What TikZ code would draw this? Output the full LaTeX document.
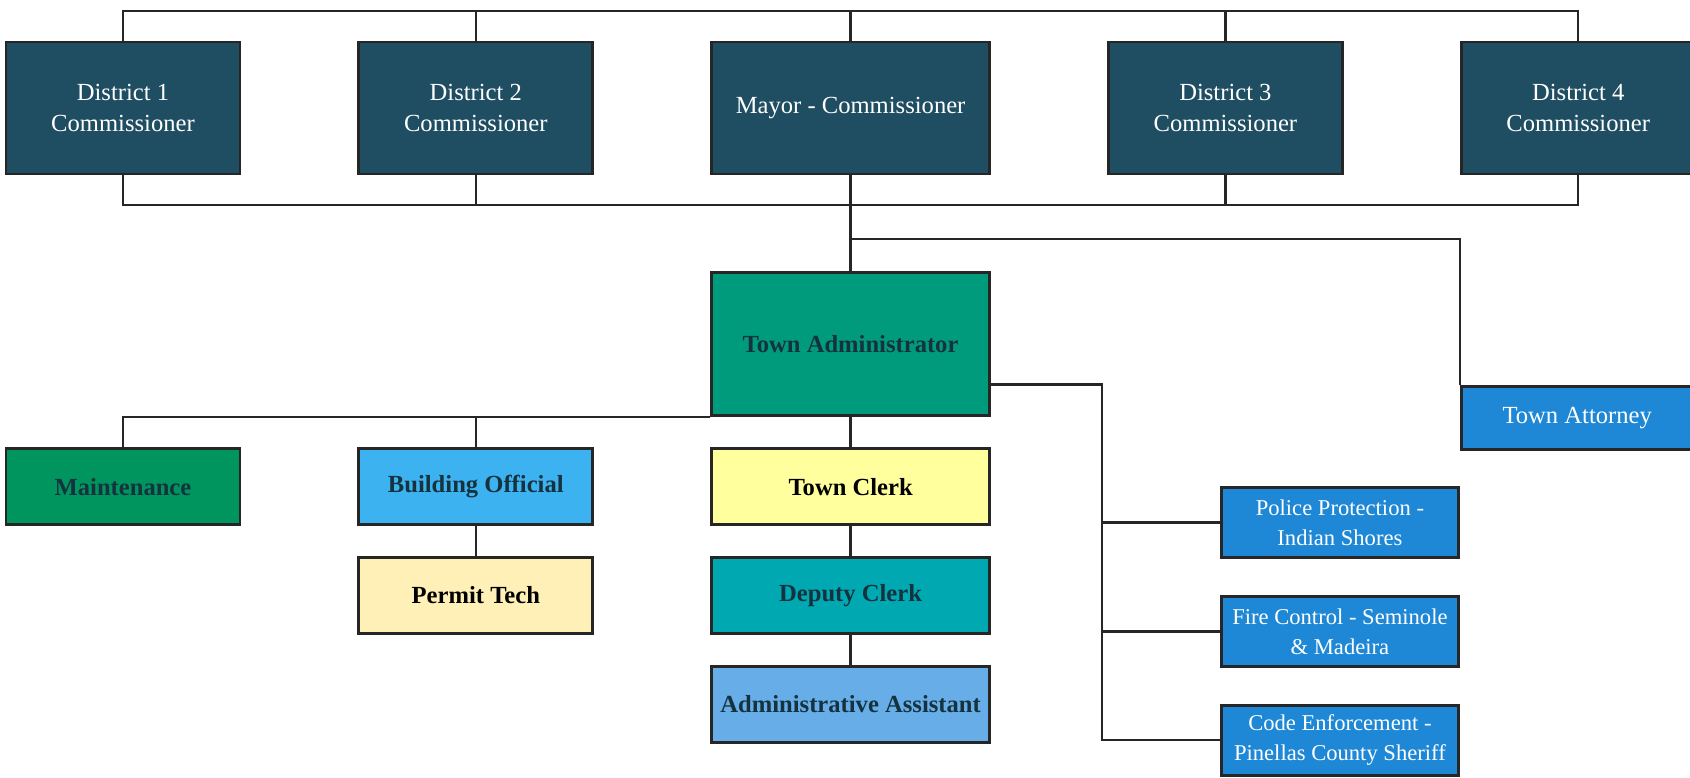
\documentclass[tikz,border=0pt]{standalone}
\usepackage{fontspec}
\setmainfont{Liberation Serif}
\usepackage{tikz}
\usetikzlibrary{positioning}
\definecolor{council}{HTML}{1F4D62}
\definecolor{admin}{HTML}{009B7D}
\definecolor{maint}{HTML}{00955F}
\definecolor{bldg}{HTML}{3DB2F0}
\definecolor{clerk}{HTML}{FFFF9E}
\definecolor{permit}{HTML}{FFF0B8}
\definecolor{deputy}{HTML}{00A8B2}
\definecolor{assist}{HTML}{67AEE9}
\definecolor{outside}{HTML}{1F88D6}
\definecolor{darktext}{HTML}{15323F}
\tikzstyle{box}=[rectangle,draw=black!85,line width=1.4pt,align=center,inner sep=2pt,font=\fontsize{12.3}{15.5}\selectfont]
\tikzstyle{council}=[box,fill=council,text=white,minimum width=117pt,minimum height=66pt]
\tikzstyle{staff}=[box,font=\fontsize{12.3}{15.5}\selectfont\bfseries,text=darktext,minimum width=117pt,minimum height=38pt]
\tikzstyle{contract}=[box,fill=outside,text=white,inner xsep=1pt,font=\fontsize{11.3}{15}\selectfont,minimum width=118.5pt,minimum height=35pt]
\tikzstyle{link}=[draw=black!85,line width=1.2pt]

\begin{document}
\begin{tikzpicture}[x=0.5pt,y=-0.5pt]
		\useasboundingbox (0,0) rectangle (1690,777);
		\begin{scope}[node distance=58pt]
			\node[council]	(d1)	at (123,108)	{District 1\\Commissioner};
			\node[council]	(d2)	[right=of d1]	{District 2\\Commissioner};
			\node[council,minimum width=139pt]
					(mayor)	[right=of d2]	{Mayor - Commissioner};
			\node[council]	(d3)	[right=of mayor]	{District 3\\Commissioner};
			\node[council]	(d4)	[right=of d3]	{District 4\\Commissioner};
			\node[staff,fill=admin,minimum width=139pt,minimum height=71.5pt,
			node distance=48pt]
					(ta)	[below=of mayor]	{Town Administrator};
			\node[staff,fill=clerk,text=black,minimum width=139pt,
			node distance=15pt]
					(tc)	[below=of ta]	{Town Clerk};
			\node[staff,fill=bldg]	(bo)	[left=of tc]	{Building Official};
			\node[staff,fill=maint]	(maint)	[left=of bo]	{Maintenance};
			\node[staff,fill=permit,text=black,node distance=15pt]
				(pt)	[below=of bo]	{Permit Tech};
			\node[staff,fill=deputy,minimum width=139pt,node distance=15pt]
				(dc)	[below=of tc]	{Deputy Clerk};
			\node[staff,fill=assist,minimum width=139pt,node distance=15pt]
				(aa)	[below=of dc]	{Administrative Assistant};
			\node[box,fill=outside,text=white,minimum width=116pt,minimum height=31.5pt]
				(att)	[below=105pt of d4.south west,anchor=north west]	{Town Attorney};
			\node[contract]	(pol)	[below=17.5pt of att.south west,anchor=north east]	{Police Protection -\\Indian Shores};
			\node[contract,node distance=18pt]
				(fire)	[below=of pol]	{Fire Control - Seminole\\\& Madeira};
			\node[contract,node distance=18pt]
				(code)	[below=of fire]	{Code Enforcement -\\Pinellas County Sheriff};
		\end{scope}

		% buses
		\coordinate	(topbus)	at (0,11);
		\coordinate	(botbus)	at (0,205);
		\coordinate	(attbus)	at (0,239);
		\coordinate	(rbus)	at ([xshift=-59pt]code.west);

		\draw[link]	(d1.north) |- (d4.north |- topbus) -- (d4.north);
		\foreach \n in {d2,mayor,d3}
			\draw[link]	(\n.north) -- (\n.north |- topbus);
		\draw[link]	(d1.south) |- (d4.south |- botbus) -- (d4.south);
		\foreach \n in {d2,d3}
			\draw[link]	(\n.south) -- (\n.south |- botbus);
		\draw[link]	(mayor.south) -- (ta.north);
		\draw[link]	(mayor.south |- attbus) -| (att.north west);
		\draw[link]	(ta.south west) -| (maint.north);
		\draw[link]	(bo.north) -- (bo.north |- ta.south);
		\draw[link]	(ta.south) -- (tc.north);
		\draw[link]	(tc) -- (dc);
		\draw[link]	(dc) -- (aa);
		\draw[link]	(bo) -- (pt);
		\draw[link]	(ta.-16) -| (rbus) -- (code.west);
		\draw[link]	(pol.west) -- (pol.west -| rbus);
		\draw[link]	(fire.west) -- (fire.west -| rbus);
	\end{tikzpicture}
\end{document}
